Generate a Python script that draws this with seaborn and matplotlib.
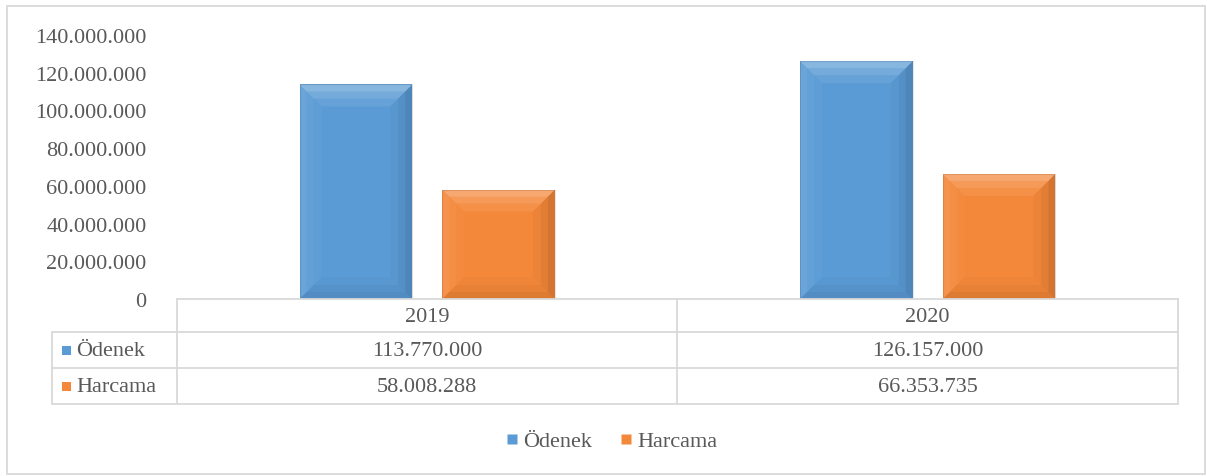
import pandas as pd
import matplotlib.pyplot as plt
import seaborn as sns
from matplotlib.patches import Polygon, Rectangle
from matplotlib.lines import Line2D
from matplotlib.transforms import blended_transform_factory

years = ['2019', '2020']
series = ['Ödenek', 'Harcama']
odenek = [113770000, 126157000]
harcama = [58008288, 66353735]
colors = ['#5B9BD5', '#F4883A']

W, H = 1207, 477
GRID = '#D9D9D9'
TXT = '#595959'
FS = 16


def fx(x):
    return x / W


def fy(y):
    return 1 - y / H


def tr(v):
    return f'{int(v):,}'.replace(',', '.')


if __name__ == '__main__':

    df = pd.DataFrame({
        'Yıl': years * 2,
        'Seri': [series[0]] * len(years) + [series[1]] * len(years),
        'Değer': odenek + harcama,
    })

    sns.set_style('white')
    plt.rcParams['font.family'] = ['Liberation Serif', 'DejaVu Serif']

    fig = plt.figure(figsize=(W / 100, H / 100), dpi=100)
    ax = fig.add_axes([fx(177), fy(300), (1178 - 177) / W, (300 - 36) / H])

    sns.barplot(data=df, x='Yıl', y='Değer', hue='Seri', palette=colors,
                width=0.57, gap=0.21, saturation=1, edgecolor='none',
                legend=False, ax=ax)

    ax.set_xlim(-0.5, len(years) - 0.5)
    ax.set_ylim(0, 140e6)
    ax.set_yticks(range(0, 140000001, 20000000))
    ax.set_yticklabels([tr(v) for v in ax.get_yticks()])
    ax.tick_params(axis='y', length=0, pad=22, labelsize=FS, labelcolor=TXT)
    ax.set_xticks([])
    ax.set_xlabel('')
    ax.set_ylabel('')
    for s in ax.spines.values():
        s.set_visible(False)

    # soft bevel look on each bar, built from the bar geometry
    inv = ax.transData.inverted()
    for p in list(ax.patches):
        x, y, w, h = p.get_x(), p.get_y(), p.get_width(), p.get_height()
        (x0, y0), (x1, y1) = ax.transData.transform([(x, y), (x + w, y + h)])
        for d, k in [(22, 0.5), (14, 0.7), (7, 1.0)]:
            d = min(d, (x1 - x0) / 2, (y1 - y0) / 2)
            faces = [
                ([(x0, y1), (x1, y1), (x1 - d, y1 - d), (x0 + d, y1 - d)], 'white', 0.14),
                ([(x0, y0), (x0, y1), (x0 + d, y1 - d), (x0 + d, y0 + d)], 'white', 0.05),
                ([(x1, y0), (x1, y1), (x1 - d, y1 - d), (x1 - d, y0 + d)], 'black', 0.06),
                ([(x0, y0), (x1, y0), (x1 - d, y0 + d), (x0 + d, y0 + d)], 'black', 0.04),
            ]
            for pts, c, a in faces:
                ax.add_patch(Polygon(inv.transform(pts), closed=True,
                                     facecolor=c, alpha=a * k, edgecolor='none'))
        ax.add_patch(Rectangle((x, y), w, h, fill=False, edgecolor='black',
                               alpha=0.1, linewidth=0.8))

    # data table grid
    lines = [
        ((177, 1178), (300, 300)),
        ((52, 1178), (333, 333)),
        ((52, 1178), (369, 369)),
        ((52, 1178), (405, 405)),
        ((177, 177), (300, 405)),
        ((677, 677), (300, 405)),
        ((1178, 1178), (300, 405)),
        ((52, 52), (333, 405)),
    ]
    for xs, ys in lines:
        fig.add_artist(Line2D([fx(v) for v in xs], [fy(v) for v in ys],
                              transform=fig.transFigure, color=GRID, lw=1.3))

    # outer chart border
    fig.add_artist(Rectangle((fx(7), fy(475)), (1205 - 7) / W, (475 - 7) / H,
                             transform=fig.transFigure, fill=False,
                             edgecolor=GRID, lw=1.3))

    btr = blended_transform_factory(ax.transData, fig.transFigure)
    for i, yr in enumerate(years):
        fig.text(i, fy(318), yr, transform=btr, ha='center', va='center',
                 fontsize=FS, color=TXT)
        fig.text(i, fy(352), tr(odenek[i]), transform=btr, ha='center',
                 va='center', fontsize=FS, color=TXT)
        fig.text(i, fy(388), tr(harcama[i]), transform=btr, ha='center',
                 va='center', fontsize=FS, color=TXT)

    for name, c, yc in zip(series, colors, [352, 388]):
        fig.add_artist(Rectangle((fx(62), fy(yc + 4)), 9 / W, 9 / H,
                                 transform=fig.transFigure, facecolor=c,
                                 edgecolor='none'))
        fig.text(fx(76), fy(yc), name, ha='left', va='center', fontsize=FS,
                 color=TXT)

    handles = [Line2D([], [], marker='s', linestyle='none', markersize=7,
                      markerfacecolor=c, markeredgecolor='none')
               for c in colors]
    fig.legend(handles, series, loc='center',
               bbox_to_anchor=(fx(612), fy(442)), ncol=2, frameon=False,
               handlelength=0.5, handletextpad=0.25, columnspacing=1.3,
               fontsize=FS, labelcolor=TXT)

    fig.savefig('out.png', dpi=100)
